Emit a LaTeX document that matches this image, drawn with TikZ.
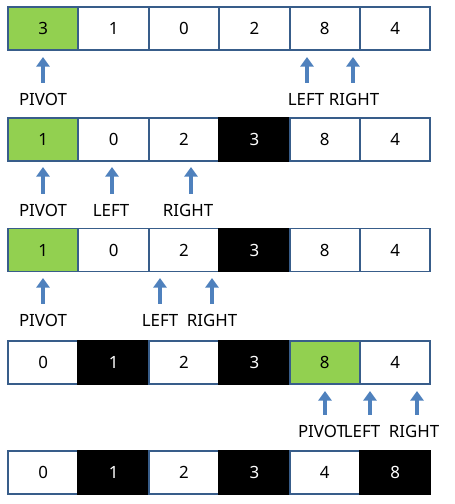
\documentclass[tikz,border=0pt]{standalone}
\usepackage{fontspec}
\setmainfont{Noto Sans}
\usepackage{xcolor}
\usepackage{tikz}
\usetikzlibrary{arrows.meta}
\definecolor{cellborder}{RGB}{56,93,138}
\definecolor{pivotgreen}{RGB}{146,208,80}
\definecolor{ptrblue}{RGB}{79,129,189}
\tikzset{ cell_box/.style = {rectangle, draw=cellborder, line width=1.1pt, fill=white, minimum width=1.408cm, minimum height=0.86cm, inner sep=0pt, font=\fontsize{9.6}{11}\selectfont} }
\tikzset{ pivot_box/.style = {cell_box, fill=pivotgreen} }
\tikzset{ done_box/.style = {cell_box, fill=black, draw=black, text=white} }
\tikzset{ ptr/.style = {-{Triangle[width=7.5pt,length=5.5pt]}, line width=1.8pt, draw=ptrblue, shorten <=5.5pt} }
\tikzset{ ptr_label/.style = {inner sep=0pt, font=\fontsize{9.6}{11}\selectfont} }

\begin{document}
\begin{tikzpicture}[x=0.02cm, y=-0.02cm]
    \useasboundingbox (0,0) rectangle (455,504);
    % row 1
    \foreach \v/\s [count=\i] in {3/pivot_box,1/cell_box,0/cell_box,2/cell_box,8/cell_box,4/cell_box}
        \node[\s] (a\i) at ({8+70.4*(\i-0.5)}, 28.5) {\v};
    \foreach \x/\lx/\t [count=\j] in {43/43/PIVOT,307/306/LEFT,353/354/RIGHT} {
        \coordinate (ta\j) at (\x, 57);
        \node[ptr_label] (la\j) at (\lx, 99) {\t};
        \draw[ptr] (la\j.north -| ta\j) -- (ta\j);
    }
    % row 2
    \foreach \v/\s [count=\i] in {1/pivot_box,0/cell_box,2/cell_box,3/done_box,8/cell_box,4/cell_box}
        \node[\s] (b\i) at ({8+70.4*(\i-0.5)}, 139.5) {\v};
    \foreach \x/\lx/\t [count=\j] in {43/43/PIVOT,112/111/LEFT,191/188/RIGHT} {
        \coordinate (tb\j) at (\x, 167);
        \node[ptr_label] (lb\j) at (\lx, 210) {\t};
        \draw[ptr] (lb\j.north -| tb\j) -- (tb\j);
    }
    % row 3
    \foreach \v/\s [count=\i] in {1/pivot_box,0/cell_box,2/cell_box,3/done_box,8/cell_box,4/cell_box}
        \node[\s] (c\i) at ({8+70.4*(\i-0.5)}, 250) {\v};
    \foreach \x/\lx/\t [count=\j] in {43/43/PIVOT,160/160/LEFT,212/212/RIGHT} {
        \coordinate (tc\j) at (\x, 278);
        \node[ptr_label] (lc\j) at (\lx, 320) {\t};
        \draw[ptr] (lc\j.north -| tc\j) -- (tc\j);
    }
    % row 4
    \foreach \v/\s [count=\i] in {0/cell_box,1/done_box,2/cell_box,3/done_box,8/pivot_box,4/cell_box}
        \node[\s] (d\i) at ({8+70.4*(\i-0.5)}, 362.5) {\v};
    \foreach \x/\lx/\t [count=\j] in {325/322/PIVOT,370/362/LEFT,417/414/RIGHT} {
        \coordinate (td\j) at (\x, 391);
        \node[ptr_label] (ld\j) at (\lx, 431) {\t};
        \draw[ptr] (ld\j.north -| td\j) -- (td\j);
    }
    % row 5
    \foreach \v/\s [count=\i] in {0/cell_box,1/done_box,2/cell_box,3/done_box,4/cell_box,8/done_box}
        \node[\s] (e\i) at ({8+70.4*(\i-0.5)}, 472.5) {\v};
\end{tikzpicture}
\end{document}
